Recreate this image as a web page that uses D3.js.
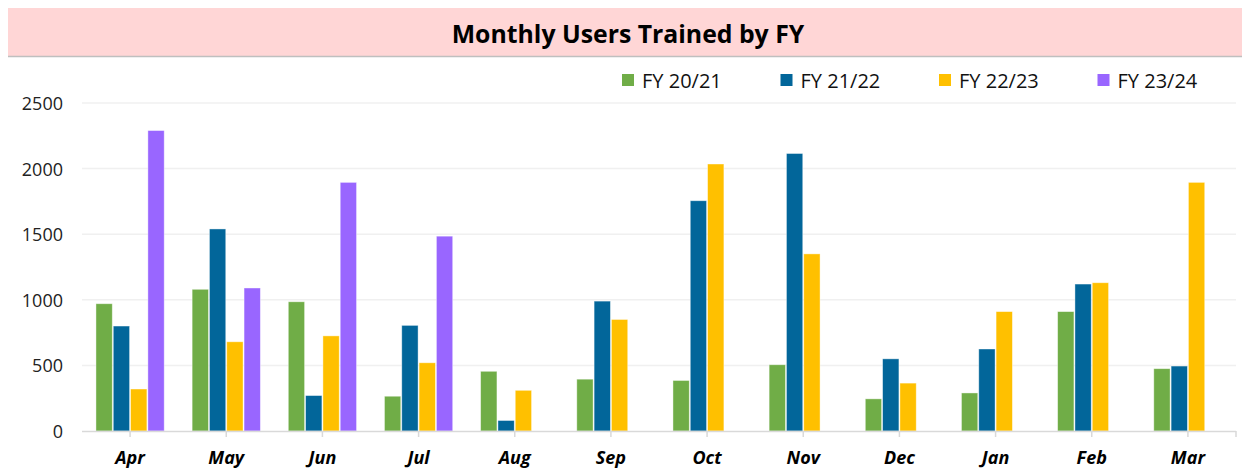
<!DOCTYPE html>
<html>
<head>
<meta charset="utf-8">
<script src="https://cdn.jsdelivr.net/npm/d3@7"></script>
<style>
  body { margin: 0; background: #fff; }
  svg { display: block; font-family: "Open Sans", Lato, sans-serif; }
</style>
</head>
<body>
<div id="chart"></div>
<script>
const months = ["Apr", "May", "Jun", "Jul", "Aug", "Sep", "Oct", "Nov", "Dec", "Jan", "Feb", "Mar"];
const seriesNames = ["FY 20/21", "FY 21/22", "FY 22/23", "FY 23/24"];
const fy2021 = [970, 1080, 985, 265, 455, 395, 385, 505, 245, 290, 910, 475];
const fy2122 = [800, 1540, 270, 805, 80, 990, 1755, 2115, 550, 625, 1120, 495];
const fy2223 = [320, 680, 725, 520, 310, 850, 2035, 1350, 365, 910, 1130, 1895];
const fy2324 = [2290, 1090, 1895, 1485, null, null, null, null, null, null, null, null];
const yTicks = [0, 500, 1000, 1500, 2000, 2500];
const colors = ["#70AD47", "#02669A", "#FFC000", "#9966FF"];

const width = 1242;
const height = 470;
const margin = { top: 103, right: 6, bottom: 39, left: 82 };

const allSeries = [fy2021, fy2122, fy2223, fy2324];

const svg = d3.select("#chart")
    .append("svg")
    .attr("width", width)
    .attr("height", height);

// Title band
svg.append("rect")
    .attr("x", 8).attr("y", 8)
    .attr("width", width - 8).attr("height", 48)
    .attr("fill", "#FFD6D6");
svg.append("line")
    .attr("x1", 8).attr("x2", width)
    .attr("y1", 56.5).attr("y2", 56.5)
    .attr("stroke", "#BFBFBF").attr("stroke-width", 1.5);
svg.append("text")
    .attr("x", 628).attr("y", 32.5)
    .attr("text-anchor", "middle")
    .attr("dominant-baseline", "central")
    .attr("font-size", 24.8)
    .attr("font-weight", "bold")
    .attr("fill", "#000")
    .text("Monthly Users Trained by FY");

const g = svg.append("g");

// Scales
const x0 = d3.scaleBand()
    .domain(months)
    .range([margin.left, width - margin.right])
    .paddingInner(0.28)
    .paddingOuter(0.14);

const x1 = d3.scaleBand()
    .domain(seriesNames)
    .range([0, x0.bandwidth()]);

const y = d3.scaleLinear()
    .domain([0, 2500])
    .range([height - margin.bottom, margin.top]);

// Gridlines
g.selectAll(".grid")
    .data(yTicks.filter(d => d > 0))
    .enter()
    .append("line")
    .attr("x1", margin.left).attr("x2", width - margin.right)
    .attr("y1", d => y(d)).attr("y2", d => y(d))
    .attr("stroke", "#F0F0F0").attr("stroke-width", 1.5);

// Y labels
g.selectAll(".ylab")
    .data(yTicks)
    .enter()
    .append("text")
    .attr("x", 63)
    .attr("y", d => y(d))
    .attr("text-anchor", "end")
    .attr("dominant-baseline", "central")
    .attr("font-size", 18)
    .attr("fill", "#222")
    .text(d => d);

// Bars
const rows = [];
months.forEach((m, i) => {
    allSeries.forEach((s, j) => {
        if (s[i] != null) rows.push({ month: m, series: seriesNames[j], value: s[i], color: colors[j] });
    });
});

g.selectAll(".bar")
    .data(rows)
    .enter()
    .append("rect")
    .attr("x", d => x0(d.month) + x1(d.series) + 0.5)
    .attr("y", d => y(d.value))
    .attr("width", x1.bandwidth() - 1)
    .attr("height", d => y(0) - y(d.value))
    .attr("fill", d => d.color)
    .attr("stroke", "#fff")
    .attr("stroke-opacity", 0.5)
    .attr("stroke-width", 0.8);

// X axis
const xAxis = g.append("g")
    .attr("transform", `translate(0,${y(0)})`)
    .call(d3.axisBottom(x0).tickSize(6).tickSizeOuter(0).tickPadding(14));
xAxis.select(".domain").attr("stroke", "#D9D9D9").attr("stroke-width", 1.5)
    .attr("d", `M${margin.left},0.5H${width - margin.right}`);
xAxis.selectAll(".tick line").attr("stroke", "#D9D9D9").attr("stroke-width", 1.5);
xAxis.selectAll(".tick text")
    .attr("font-size", 18)
    .attr("font-weight", "bold")
    .attr("font-style", "italic")
    .attr("font-family", "\"Open Sans\", Lato, sans-serif")
    .attr("fill", "#000");
xAxis.append("line")
    .attr("x1", width - margin.right).attr("x2", width - margin.right)
    .attr("y1", 0).attr("y2", 6)
    .attr("stroke", "#D9D9D9").attr("stroke-width", 1.5);

// Legend
const legend = svg.append("g")
    .selectAll("g")
    .data(seriesNames)
    .enter()
    .append("g")
    .attr("transform", (d, i) => `translate(${622 + i * 158.5},80)`);
legend.append("rect")
    .attr("x", 0).attr("y", -6)
    .attr("width", 12).attr("height", 12)
    .attr("fill", (d, i) => colors[i]);
legend.append("text")
    .attr("x", 20).attr("y", 0)
    .attr("dominant-baseline", "central")
    .attr("font-size", 20)
    .attr("fill", "#111")
    .text(d => d);
</script>
</body>
</html>
